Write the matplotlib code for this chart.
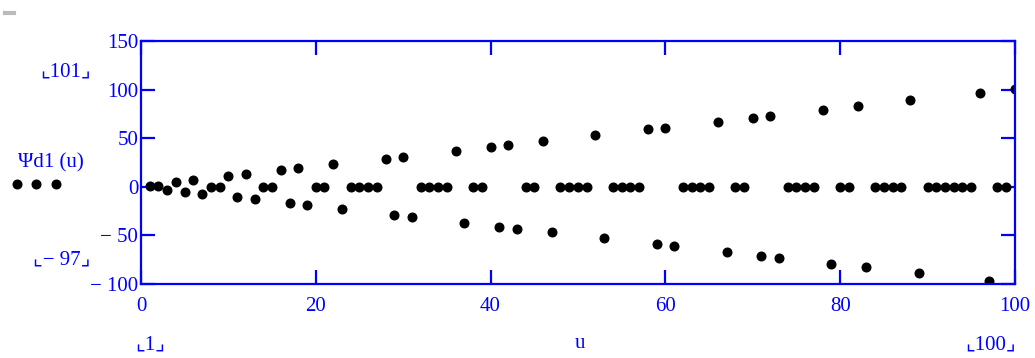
import matplotlib.pyplot as plt
from matplotlib.lines import Line2D

# data
u = list(range(1, 101))
psi = [1, 1, -3, 5, -5, 7, -7, 0, 0, 11,
       -11, 13, -13, 0, 0, 17, -17, 19, -19, 0,
       0, 23, -23, 0, 0, 0, 0, 29, -29, 31,
       -31, 0, 0, 0, 0, 37, -37, 0, 0, 41,
       -41, 43, -43, 0, 0, 47, -47, 0, 0, 0,
       0, 53, -53, 0, 0, 0, 0, 59, -59, 61,
       -61, 0, 0, 0, 0, 67, -67, 0, 0, 71,
       -71, 73, -73, 0, 0, 0, 0, 79, -79, 0,
       0, 83, -83, 0, 0, 0, 0, 89, -89, 0,
       0, 0, 0, 0, 0, 97, -97, 0, 0, 101]
xticks = [0, 20, 40, 60, 80, 100]
yticks = [-100, -50, 0, 50, 100, 150]
ytick_labels = ["\u2212 100", "\u2212 50", "0", "50", "100", "150"]

blue = "#0000ff"
serif = ["Liberation Serif", "DejaVu Sans"]
fs = 15

fig = plt.figure(figsize=(10.35, 3.58), dpi=100)
ax = fig.add_axes([0.1362, 0.2067, 0.8444, 0.6788])

ax.plot(u, psi, linestyle="none", marker="o", color="black", markersize=6.2)

ax.set_xlim(0, 100)
ax.set_ylim(-100, 150)
ax.set_xticks(xticks)
ax.set_yticks(yticks)
ax.set_yticklabels(ytick_labels)
for s in ax.spines.values():
    s.set_color(blue)
    s.set_linewidth(1.6)
ax.tick_params(direction="in", length=10, width=1.6, color=blue, labelcolor=blue,
               labelsize=fs, top=True, right=True, pad=2)
for lab in ax.get_xticklabels() + ax.get_yticklabels():
    lab.set_family(serif)
ax.tick_params(axis="x", pad=9)

# mathcad-style annotations
fig.text(0.063, 0.80, "\u231e101\u231f", color=blue, fontsize=fs, family=serif,
         ha="center", va="center")
fig.text(0.060, 0.274, "\u231e\u2212 97\u231f", color=blue, fontsize=fs, family=serif,
         ha="center", va="center")
fig.text(0.049, 0.545, "\u03a8d1 (u)", color=blue, fontsize=fs, family=serif,
         ha="center", va="center")
fig.add_artist(Line2D([0.016, 0.035, 0.054], [0.486, 0.486, 0.486], transform=fig.transFigure,
                      linestyle="none", marker="o", color="black", markersize=6.2))
fig.text(0.145, 0.035, "\u231e1\u231f", color=blue, fontsize=fs, family=serif,
         ha="center", va="center")
fig.text(0.56, 0.04, "u", color=blue, fontsize=fs, family=serif,
         ha="center", va="center")
fig.text(0.957, 0.035, "\u231e100\u231f", color=blue, fontsize=fs, family=serif,
         ha="center", va="center")
fig.add_artist(Line2D([0.005, 0.014], [0.963, 0.963], transform=fig.transFigure,
                      color="#bbbbbb", linewidth=3))

fig.savefig("out.png", dpi=100)
